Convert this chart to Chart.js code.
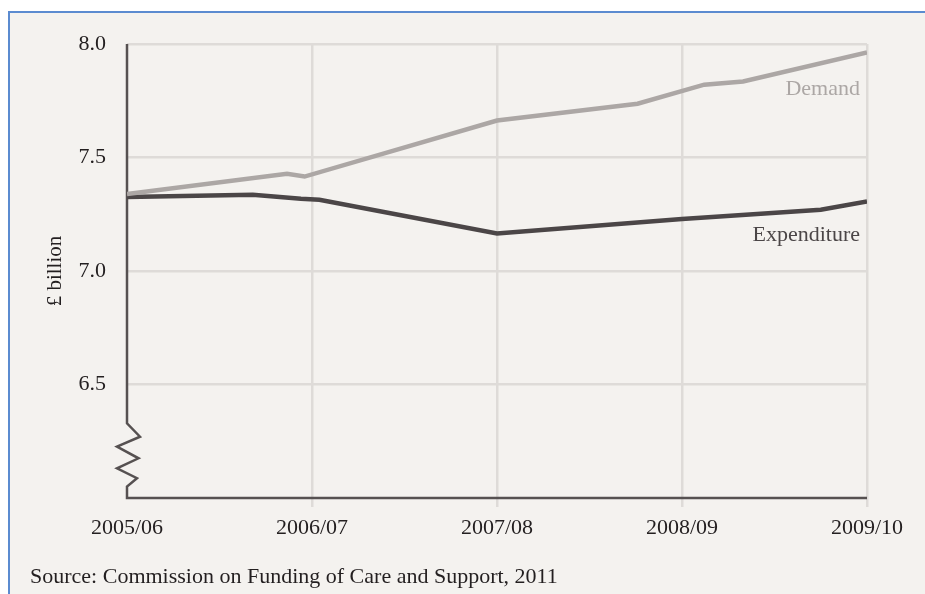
<!DOCTYPE html>
<html>
<head>
<meta charset="utf-8">
<script src="https://cdn.jsdelivr.net/npm/chart.js@4/dist/chart.umd.min.js"></script>
<style>
  html, body { margin: 0; padding: 0; background: #ffffff; }
  #wrap { position: relative; width: 925px; height: 594px; overflow: hidden; }
  #frame { position: absolute; left: 8px; top: 11px; right: 0; bottom: 0;
           border-top: 2px solid #5b8bd0; border-left: 2px solid #5b8bd0; background: #f4f2ef; }
  canvas { position: absolute; left: 0; top: 0; }
</style>
</head>
<body>
<div id="wrap">
  <div id="frame"></div>
  <canvas id="c" width="925" height="594"></canvas>
</div>
<script>
// ---- data ----
const categories = ['2005/06', '2006/07', '2007/08', '2008/09', '2009/10'];
const demandX = [0, 0.865, 0.96, 2.0, 2.76, 3.12, 3.33, 4.0];
const demandY = [7.339, 7.428, 7.416, 7.663, 7.737, 7.821, 7.835, 7.963];
const expenditureX = [0, 0.68, 0.94, 1.04, 2.0, 3.0, 3.75, 4.0];
const expenditureY = [7.326, 7.336, 7.318, 7.314, 7.165, 7.229, 7.270, 7.306];
const yTicks = [6.5, 7.0, 7.5, 8.0];
const seriesLabels = ['Demand', 'Expenditure'];
const seriesLabelY = [7.776, 7.134];
const sourceText = 'Source: Commission on Funding of Care and Support, 2011';
const yTitle = '£ billion';

const SERIF = '"Liberation Serif", "DejaVu Serif", serif';
const demandColor = '#aca7a5';
const expColor = '#4b4647';
const gridColor = '#dedbd8';
const axisColor = '#565151';
const textColor = '#231f20';

const toPts = (xs, ys) => xs.map((x, i) => ({ x: x, y: ys[i] }));

const decorPlugin = {
  id: 'decor',
  beforeDatasetsDraw(chart) {
    const { ctx } = chart;
    const xs = chart.scales.x, ys = chart.scales.y;
    const x0 = xs.getPixelForValue(0), x4 = xs.getPixelForValue(4);
    const yb = ys.getPixelForValue(6), yt = ys.getPixelForValue(8);
    // axis with break (zigzag)
    const zig = [[0, 6.329], [13, 6.270], [-10, 6.226], [11.5, 6.175], [-10, 6.131], [10, 6.087], [0, 6.050]];
    ctx.save();
    ctx.strokeStyle = axisColor;
    ctx.lineWidth = 2.5;
    ctx.lineJoin = 'miter';
    ctx.beginPath();
    ctx.moveTo(x0, yt);
    zig.forEach(p => ctx.lineTo(x0 + p[0], ys.getPixelForValue(p[1])));
    ctx.lineTo(x0, yb);
    ctx.lineTo(x4, yb);
    ctx.stroke();
    ctx.restore();
  },
  afterDraw(chart) {
    const { ctx } = chart;
    const xs = chart.scales.x, ys = chart.scales.y;
    ctx.save();
    ctx.font = '22px ' + SERIF;
    ctx.textAlign = 'right';
    ctx.textBaseline = 'alphabetic';
    const colors = [demandColor, expColor];
    seriesLabels.forEach((t, i) => {
      ctx.fillStyle = colors[i];
      ctx.fillText(t, xs.getPixelForValue(4) - 7, ys.getPixelForValue(seriesLabelY[i]));
    });
    ctx.textAlign = 'left';
    ctx.fillStyle = textColor;
    ctx.fillText(sourceText, 30, 583);
    ctx.restore();
  }
};

new Chart(document.getElementById('c'), {
  type: 'line',
  data: {
    datasets: [
      { label: 'Demand', data: toPts(demandX, demandY), borderColor: demandColor, borderWidth: 4.5,
        pointRadius: 0, tension: 0, fill: false },
      { label: 'Expenditure', data: toPts(expenditureX, expenditureY), borderColor: expColor, borderWidth: 4.5,
        pointRadius: 0, tension: 0, fill: false }
    ]
  },
  options: {
    responsive: false,
    animation: false,
    events: [],
    layout: { padding: { top: 44, right: 58, left: 0, bottom: 0 } },
    plugins: { legend: { display: false }, tooltip: { enabled: false } },
    scales: {
      x: {
        type: 'linear', min: 0, max: 4,
        afterFit: s => { s.height = 96; },
        afterBuildTicks: s => { s.ticks = categories.map((c, i) => ({ value: i })); },
        ticks: {
          callback: v => categories[v],
          font: { family: SERIF, size: 22 }, color: textColor, padding: 8,
          maxRotation: 0, autoSkip: false
        },
        grid: {
          color: ctx => (ctx.tick && ctx.tick.value === 0) ? 'rgba(0,0,0,0)' : gridColor,
          lineWidth: 2.5, drawTicks: true, tickLength: 9
        },
        border: { display: false }
      },
      y: {
        type: 'linear', min: 6, max: 8,
        afterFit: s => { s.width = 127; },
        afterBuildTicks: s => { s.ticks = [{ value: 6 }].concat(yTicks.map(v => ({ value: v }))); },
        ticks: {
          callback: v => v === 6 ? '' : v.toFixed(1),
          font: { family: SERIF, size: 22 }, color: textColor, padding: 21
        },
        grid: {
          color: ctx => (ctx.tick && ctx.tick.value === 6) ? 'rgba(0,0,0,0)' : gridColor,
          lineWidth: 2.5, drawTicks: false
        },
        border: { display: false },
        title: { display: true, text: yTitle, font: { family: SERIF, size: 21 }, color: textColor,
                 padding: { top: 43, bottom: 0 } }
      }
    }
  },
  plugins: [decorPlugin]
});
</script>
</body>
</html>
